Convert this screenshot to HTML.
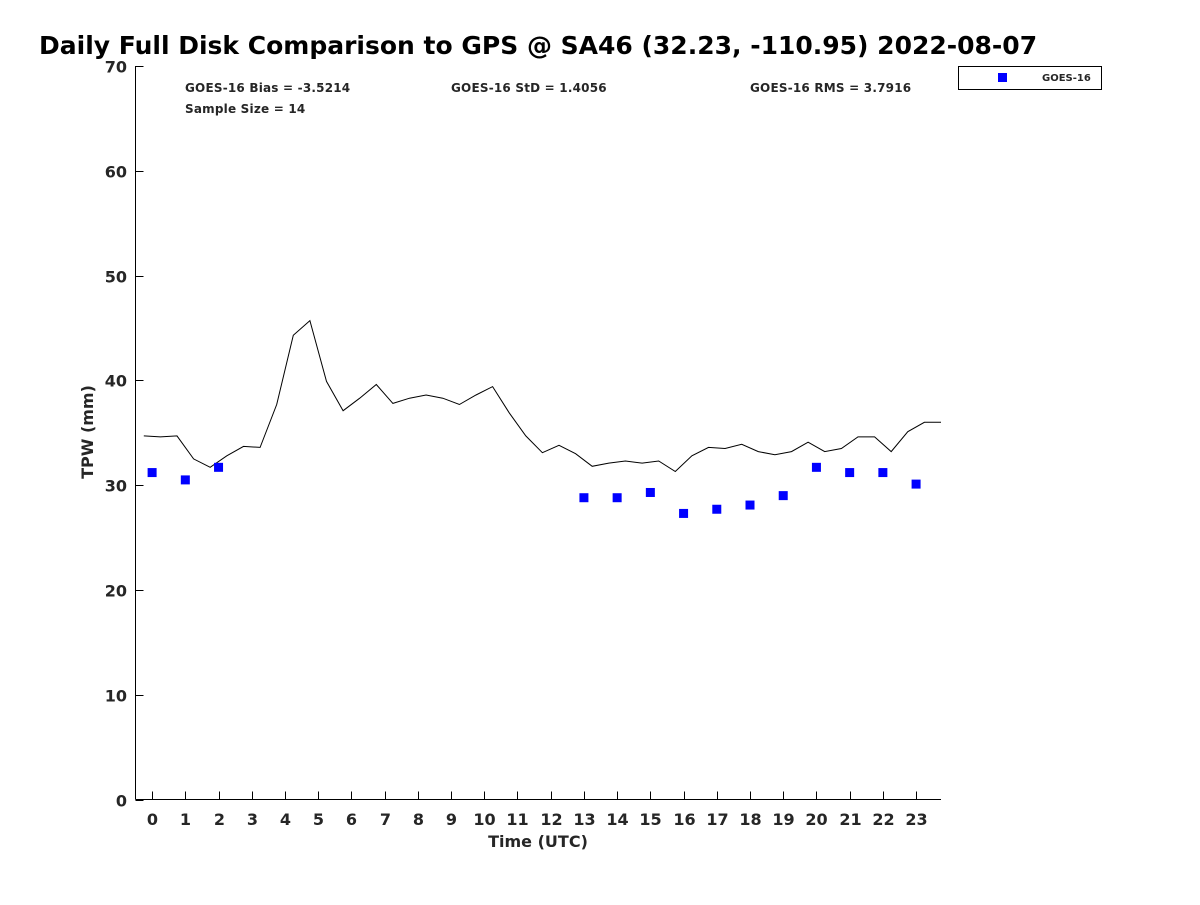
<!DOCTYPE html>
<html><head><meta charset="utf-8"><style>
body{margin:0;background:#fff;font-family:"Liberation Sans","DejaVu Sans",sans-serif}
text{fill:#262626}
</style></head><body>
<svg id="chart" width="1200" height="900" xmlns="http://www.w3.org/2000/svg" font-family="DejaVu Sans, Liberation Sans, sans-serif">
<rect width="1200" height="900" fill="#fff"/>
<text x="39" y="54" font-size="25" font-weight="bold" style="fill:#000">Daily Full Disk Comparison to GPS @ SA46 (32.23, -110.95) 2022-08-07</text>
<g id="axes"></g>
<g id="marks"></g>
<g font-size="12" font-weight="bold" letter-spacing="0.2">
<text x="185" y="92">GOES-16 Bias = -3.5214</text>
<text x="451" y="92">GOES-16 StD = 1.4056</text>
<text x="750" y="92">GOES-16 RMS = 3.7916</text>
<text x="185" y="113">Sample Size = 14</text>
</g>
<g>
<rect x="958.5" y="66.5" width="143" height="23" fill="#fff" stroke="#000"/>
<rect x="998" y="73" width="9" height="9" fill="#0000ff"/>
<text x="1042" y="81" font-size="10" font-weight="bold">GOES-16</text>
</g>
<text x="538" y="847" font-size="16" font-weight="bold" text-anchor="middle">Time (UTC)</text>
<text transform="translate(93,432) rotate(-90)" font-size="16" font-weight="bold" text-anchor="middle">TPW (mm)</text>
</svg>
<script>
const gpsTimes = [];
const gpsValues = [34.7,34.6,34.7,32.5,31.7,32.8,33.7,33.6,37.7,44.3,45.7,39.9,37.1,38.3,39.6,37.8,38.3,38.6,38.3,37.7,38.6,39.4,36.9,34.7,33.1,33.8,33.0,31.8,32.1,32.3,32.1,32.3,31.3,32.8,33.6,33.5,33.9,33.2,32.9,33.2,34.1,33.2,33.5,34.6,34.6,33.2,35.1,36.0,36.0];
for (let i = 0; i < gpsValues.length; i++) gpsTimes.push(-0.25 + 0.5 * i);
const goesHours = [0,1,2,13,14,15,16,17,18,19,20,21,22,23];
const goesValues = [31.2,30.5,31.7,28.8,28.8,29.3,27.3,27.7,28.1,29.0,31.7,31.2,31.2,30.1];
const xTicks = [0,1,2,3,4,5,6,7,8,9,10,11,12,13,14,15,16,17,18,19,20,21,22,23];
const yTicks = [0,10,20,30,40,50,60,70];

const NS = "http://www.w3.org/2000/svg";
const X0 = 135.5, X1 = 941, Y0 = 799.5, Y1 = 66;
const xMin = -0.5, xMax = 23.75, yMin = 0, yMax = 70;
const xs = v => X0 + (v - xMin) / (xMax - xMin) * (X1 - X0);
const ys = v => Y0 - (v - yMin) / (yMax - yMin) * (Y0 - Y1);
function mk(tag, attrs, parent) { const e = document.createElementNS(NS, tag); for (const k in attrs) e.setAttribute(k, attrs[k]); parent.appendChild(e); return e; }
const axes = document.getElementById('axes'), marks = document.getElementById('marks');

const xa = mk('line', {x1: X0, y1: Y0, x2: X1, y2: Y0, stroke: '#000'}, axes);


const ya = mk('line', {x1: X0, y1: Y0, x2: X0, y2: Y1, stroke: '#000'}, axes);



xTicks.forEach(t => {
  const x = Math.round(xs(t)) + 0.5;
  mk('line', {x1: x, y1: Y0, x2: x, y2: Y0 - 8, stroke: '#000'}, axes);
  const tx = mk('text', {x: x, y: 825, 'font-size': 16, 'font-weight': 'bold', 'text-anchor': 'middle'}, axes);
  tx.textContent = t;
  
  
});
yTicks.forEach(t => {
  const y = Math.round(ys(t)) + 0.5;
  mk('line', {x1: X0, y1: y, x2: X0 + 8, y2: y, stroke: '#000'}, axes);
  const tx = mk('text', {x: 127, y: y + 6, 'font-size': 16, 'font-weight': 'bold', 'text-anchor': 'end'}, axes);
  tx.textContent = t;
  
  
});

const pts = gpsTimes.map((t, i) => xs(t).toFixed(1) + ',' + ys(gpsValues[i]).toFixed(1)).join(' ');
const line = mk('polyline', {points: pts, fill: 'none', stroke: '#000', 'stroke-width': 1}, marks);



goesHours.forEach((h, i) => {
  const r = mk('rect', {x: xs(h) - 4.5, y: ys(goesValues[i]) - 4.5, width: 9, height: 9, fill: '#0000ff'}, marks);
  
  
});
</script>
</body></html>
